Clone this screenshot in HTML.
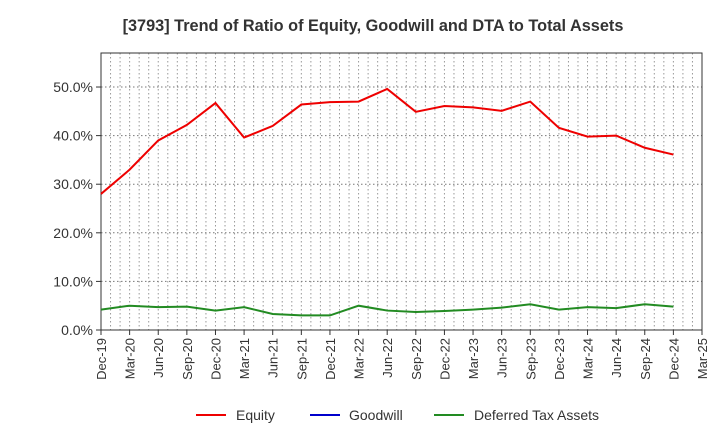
<!DOCTYPE html>
<html><head><meta charset="utf-8"><style>
body{margin:0;background:#fff;font-family:"Liberation Sans",sans-serif}
</style></head><body>
<svg id="c" width="720" height="440" xmlns="http://www.w3.org/2000/svg">
<text x="373" y="31" text-anchor="middle" font-size="16.3" font-weight="bold" fill="#333">[3793]  Trend of Ratio of Equity, Goodwill and DTA to Total Assets</text>
<g id="grid"></g><g id="axes"></g><g id="series"></g>
<g font-size="14" fill="#333">
<line x1="196" y1="415" x2="226" y2="415" stroke="#e00" stroke-width="2"/><text x="236" y="420">Equity</text>
<line x1="310" y1="415" x2="340" y2="415" stroke="#00c" stroke-width="2"/><text x="349" y="420">Goodwill</text>
<line x1="434" y1="415" x2="464" y2="415" stroke="#228b22" stroke-width="2"/><text x="474" y="420">Deferred Tax Assets</text>
</g>
</svg>
<script>
const categories=["Dec-19","Mar-20","Jun-20","Sep-20","Dec-20","Mar-21","Jun-21","Sep-21","Dec-21","Mar-22","Jun-22","Sep-22","Dec-22","Mar-23","Jun-23","Sep-23","Dec-23","Mar-24","Jun-24","Sep-24","Dec-24","Mar-25"];
const equity=[28.0,33.0,39.0,42.2,46.7,39.6,42.0,46.4,46.9,47.0,49.6,44.9,46.1,45.8,45.1,47.0,41.6,39.8,40.0,37.5,36.1];
const dta=[4.2,5.0,4.7,4.8,4.0,4.7,3.3,3.0,3.0,5.0,4.0,3.7,3.9,4.2,4.6,5.3,4.2,4.7,4.5,5.3,4.8];
const yTicks=[0,10,20,30,40,50];
const X0=101,X1=702,Y0=330,YT=53,YMAX=57;
const xs=i=>X0+(X1-X0)*i/(categories.length-1);
const ys=v=>Y0-(Y0-YT)*v/YMAX;
const NS="http://www.w3.org/2000/svg";
function mk(p,t,a){const e=document.createElementNS(NS,t);for(const k in a)e.setAttribute(k,a[k]);p.appendChild(e);return e;}
const grid=document.getElementById('grid'),axes=document.getElementById('axes'),ser=document.getElementById('series');
const nm=(categories.length-1)*3;
for(let m=1;m<nm;m++){const x=X0+(X1-X0)*m/nm;const l=mk(grid,'line',{x1:x,x2:x,y1:YT,y2:Y0,stroke:'#999','stroke-dasharray':'1.5,2.5','stroke-width':1});

}
yTicks.forEach(v=>{const y=ys(v);
if(v>0){const l=mk(grid,'line',{x1:X0,x2:X1,y1:y,y2:y,stroke:'#777','stroke-dasharray':'1.5,2.5'});

}
mk(axes,'line',{x1:X0-5,x2:X0,y1:y,y2:y,stroke:'#333'});
const t=mk(axes,'text',{x:X0-8,y:y+5,'text-anchor':'end','font-size':14,fill:'#333'});t.textContent=v.toFixed(1)+'%';

});
const fr=mk(axes,'rect',{x:X0,y:YT,width:X1-X0,height:Y0-YT,fill:'none',stroke:'#333'});


categories.forEach((c,i)=>{const x=xs(i);mk(axes,'line',{x1:x,x2:x,y1:Y0,y2:Y0+5,stroke:'#333'});
const t=mk(axes,'text',{x:x+5,y:Y0+8,'text-anchor':'end','font-size':13,fill:'#333',transform:`rotate(-90 ${x+5} ${Y0+8})`});t.textContent=c;

});
function line(d,col,name){const p=mk(ser,'polyline',{points:d.map((v,i)=>xs(i)+','+ys(v)).join(' '),fill:'none',stroke:col,'stroke-width':2});

}
line(equity,'#e00','equity-line');
line(dta,'#228b22','dta-line');
</script>
</body></html>
